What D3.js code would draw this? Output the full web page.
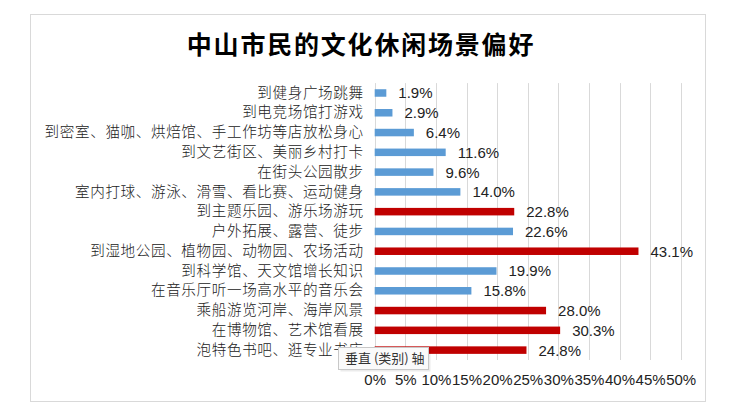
<!DOCTYPE html>
<html><head><meta charset="utf-8">
<script src="https://cdn.jsdelivr.net/npm/d3@7/dist/d3.min.js"></script>
<style>
body{margin:0;background:#fff;}
svg{display:block;}
</style></head>
<body>
<svg id="c" width="732" height="418"></svg>
<script>
const title = "中山市民的文化休闲场景偏好";
const categories = [
  "到健身广场跳舞",
  "到电竞场馆打游戏",
  "到密室、猫咖、烘焙馆、手工作坊等店放松身心",
  "到文艺街区、美丽乡村打卡",
  "在街头公园散步",
  "室内打球、游泳、滑雪、看比赛、运动健身",
  "到主题乐园、游乐场游玩",
  "户外拓展、露营、徒步",
  "到湿地公园、植物园、动物园、农场活动",
  "到科学馆、天文馆增长知识",
  "在音乐厅听一场高水平的音乐会",
  "乘船游览河岸、海岸风景",
  "在博物馆、艺术馆看展",
  "泡特色书吧、逛专业书店"
];
const values = [1.9, 2.9, 6.4, 11.6, 9.6, 14.0, 22.8, 22.6, 43.1, 19.9, 15.8, 28.0, 30.3, 24.8];
const highlight = [false,false,false,false,false,false,true,false,true,false,false,true,true,true];
const ticks = [0,5,10,15,20,25,30,35,40,45,50];
const tooltipText = "垂直 (类别) 轴";

const svg = d3.select("#c");
const pL = 374.7, pR = 680.7, pT = 83.1, pB = 360;
const x = d3.scaleLinear().domain([0,50]).range([pL,pR]);
const y = d3.scaleBand().domain(categories).range([pT,pB]).paddingInner(0.62).paddingOuter(0.31);

// frame
svg.append("rect").attr("x",30.5).attr("y",14.5).attr("width",675).attr("height",387)
  .attr("fill","#fff").attr("stroke","#d9d9d9").attr("stroke-width",1);

// title
svg.append("text").attr("x",361).attr("y",54).attr("text-anchor","middle")
  .attr("font-family","'Noto Sans CJK SC', sans-serif").attr("font-weight","bold")
  .attr("font-size",25).attr("letter-spacing",1.8).attr("fill","#000").text(title);

// gridlines
svg.append("g").selectAll("line").data(ticks).join("line")
  .attr("x1",d=>Math.round(x(d))+0.5).attr("x2",d=>Math.round(x(d))+0.5)
  .attr("y1",pT).attr("y2",pB).attr("stroke","#d9d9d9").attr("stroke-width",1);

// x axis tick labels
const xa = svg.append("g").attr("transform",`translate(0,${pB})`)
  .call(d3.axisBottom(x).tickValues(ticks).tickFormat(d=>d+"%").tickSize(0).tickPadding(14));
xa.select(".domain").remove();
xa.selectAll("text").attr("font-family","'Liberation Sans', Arial, sans-serif").attr("font-size",15).attr("fill","#222");

// y axis labels
const ya = svg.append("g").attr("transform",`translate(${pL},0)`)
  .call(d3.axisLeft(y).tickSize(0).tickPadding(11));
ya.select(".domain").remove();
ya.selectAll("text").attr("font-family","'Noto Sans CJK SC', sans-serif").attr("font-size",14.6)
  .attr("letter-spacing",0.6).attr("font-weight",300).attr("fill","#222");

// bars
svg.append("g").selectAll("rect").data(values).join("rect")
  .attr("x",x(0)).attr("y",(d,i)=>y(categories[i]))
  .attr("width",d=>x(d)-x(0)).attr("height",y.bandwidth())
  .attr("fill",(d,i)=>highlight[i]?"#C00000":"#5B9BD5");

// data labels
svg.append("g").selectAll("text").data(values).join("text")
  .attr("x",d=>x(d)+12).attr("y",(d,i)=>y(categories[i])+y.bandwidth()/2)
  .attr("dy","0.36em").attr("font-family","'Liberation Sans', Arial, sans-serif")
  .attr("font-size",15).attr("fill","#222").text(d=>d.toFixed(1)+"%");

// tooltip (hover label visible in the reference)
const tt = svg.append("g");
tt.append("rect").attr("x",339.5).attr("y",348.5).attr("width",90).attr("height",22)
  .attr("fill","#000").attr("opacity",0.08).attr("transform","translate(1,1)");
tt.append("rect").attr("x",338.5).attr("y",347.5).attr("width",90).attr("height",22)
  .attr("fill","#fafafa").attr("stroke","#c8c8c8");
tt.append("text").attr("x",345).attr("y",363).attr("font-family","'Noto Sans CJK SC', sans-serif")
  .attr("font-size",13).attr("fill","#333").text(tooltipText);
</script>
</body></html>
